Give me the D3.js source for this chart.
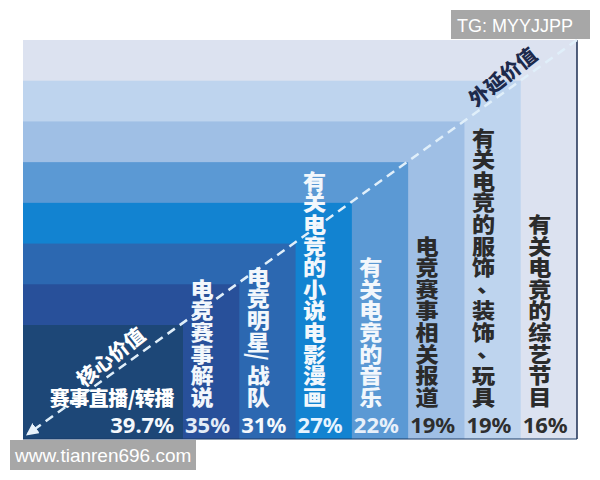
<!DOCTYPE html>
<html><head><meta charset="utf-8">
<script src="https://cdn.jsdelivr.net/npm/d3@7"></script>
<style>html,body{margin:0;padding:0;background:#fff;}svg{display:block;}</style>
</head><body>
<script>
const categories = ["赛事直播/转播","电竞赛事解说","电竞明星/战队","有关电竞的小说电影漫画","有关电竞的音乐","电竞赛事相关报道","有关电竞的服饰、装饰、玩具","有关电竞的综艺节目"];
const values = [39.7, 35, 31, 27, 22, 19, 19, 16];
const valueLabels = ["39.7%","35%","31%","27%","22%","19%","19%","16%"];
const axisLabels = ["核心价值","外延价值"];
const bandColors = ["#1d4777","#28509a","#2c68b1","#1283d1","#5b99d4","#9fbfe5","#bed4ee","#dce2f0"];
const pctColors = ["#f4f8fc","#e3ecf7","#f4f8fc","#e6f3ff","#e8f0fa","#2e2e2e","#2e2e2e","#2e2e2e"];
const textColors = ["#ffffff","#f2f7fc","#f2f7fc","#f2f7fc","#f2f7fc","#2b2b2b","#2b2b2b","#2b2b2b"];

const W = 600, H = 480;
const left = 23, bottom = 439;
const n = categories.length;
const svg = d3.select("body").append("svg").attr("width", W).attr("height", H);

const xRight = d3.scaleLinear().domain([0, n - 1]).range([183, 577]);
const yTop = d3.scaleLinear().domain([0, n - 1]).range([325, 40]);
const colLeft = i => i === 0 ? left : xRight(i - 1);

const idx = d3.range(n);
// nested rectangles: largest first
svg.append("g").selectAll("rect").data(idx.slice().reverse()).join("rect")
  .attr("x", left).attr("y", i => yTop(i))
  .attr("width", i => xRight(i) - left).attr("height", i => bottom - yTop(i))
  .attr("fill", i => bandColors[i]);

// border right / bottom
svg.append("line").attr("x1", xRight(n-1)).attr("x2", xRight(n-1)).attr("y1", yTop(n-1)).attr("y2", bottom)
  .attr("stroke", "#1b2d52").attr("stroke-width", 1.5);
svg.append("line").attr("x1", left).attr("x2", xRight(n-1)).attr("y1", bottom).attr("y2", bottom)
  .attr("stroke", "#1b3a66").attr("stroke-width", 1);

// diagonal dashed line with arrow
const defs = svg.append("defs");
defs.append("marker").attr("id", "arr").attr("viewBox", "0 0 10 10").attr("refX", 8).attr("refY", 5)
  .attr("markerWidth", 5).attr("markerHeight", 5).attr("orient", "auto-start-reverse")
  .append("path").attr("d", "M0,0 L10,5 L0,10 z").attr("fill", "#e8f3fc");
const x0 = 24, y0 = 437, x1 = xRight(n-1), y1 = yTop(n-1);
svg.append("line").attr("x1", x1).attr("y1", y1).attr("x2", x0 + 4).attr("y2", y0 - 3)
  .attr("stroke", "#e0effa").attr("stroke-width", 2.5).attr("stroke-dasharray", "9,6")
  .attr("marker-end", "url(#arr)");

const ang = Math.atan2(y0 - y1, x1 - x0) * 180 / Math.PI;
const cjk = "'Noto Sans CJK SC', sans-serif";
svg.append("text").attr("transform", `translate(110,356) rotate(${-ang - 3})`)
  .attr("text-anchor", "middle").attr("dominant-baseline", "central")
  .attr("font-family", cjk).attr("font-weight", 900).attr("font-size", 20)
  .attr("fill", "#ffffff").text(axisLabels[0]);
svg.append("text").attr("transform", `translate(502,76) rotate(${-ang - 3})`)
  .attr("text-anchor", "middle").attr("dominant-baseline", "central")
  .attr("font-family", cjk).attr("font-weight", 900).attr("font-size", 20)
  .attr("fill", "#1d2a4c").text(axisLabels[1]);

// first category horizontal
svg.append("text").attr("x", 174).attr("y", 406).attr("text-anchor", "end")
  .attr("font-family", cjk).attr("font-weight", 900).attr("font-size", 20)
  .attr("letter-spacing", -0.5)
  .attr("fill", textColors[0]).text(categories[0]);

// vertical labels, one character per text, stacked from the bottom
const step = 21.6, slashStep = 12, lastBottom = 406;
idx.slice(1).forEach(i => {
  const chars = Array.from(categories[i]);
  const cx = colLeft(i) + 19;
  const g = svg.append("g");
  let yb = lastBottom;
  for (let j = chars.length - 1; j >= 0; j--) {
    const c = chars[j];
    const s = c === "/" ? slashStep : step;
    const cy = yb - s / 2;
    yb -= s;
    const t = g.append("text")
      .attr("text-anchor", "middle").attr("dominant-baseline", "central")
      .attr("font-family", cjk).attr("font-weight", 900).attr("font-size", 21)
      .attr("fill", textColors[i]).text(c);
    if (c === "/") t.attr("transform", `translate(${cx},${cy}) rotate(90) scale(0.9,1.15)`);
    else if (c === "、") t.attr("transform", `translate(${cx + 5},${cy - 5}) scale(1.1,1)`);
    else t.attr("transform", `translate(${cx},${cy}) scale(1.1,1)`);
  }
});

// percentages
svg.append("g").selectAll("text").data(idx).join("text")
  .attr("x", i => i === 0 ? 174 : colLeft(i) + 2)
  .attr("y", 433)
  .attr("text-anchor", i => i === 0 ? "end" : "start")
  .attr("font-family", "'Noto Sans', sans-serif").attr("font-weight", 700).attr("font-size", 22)
  .attr("fill", i => pctColors[i]).text(i => valueLabels[i]);

// watermark boxes
svg.append("rect").attr("x", 451).attr("y", 10).attr("width", 139).attr("height", 29).attr("fill", "#a7a7a7");
svg.append("text").attr("x", 457).attr("y", 32).attr("font-family", "'Liberation Sans', Arial, sans-serif")
  .attr("font-size", 18).attr("fill", "#ffffff").text("TG: MYYJJPP");
svg.append("rect").attr("x", 10).attr("y", 440).attr("width", 186).attr("height", 30).attr("fill", "#a7a7a7");
svg.append("text").attr("x", 15).attr("y", 462).attr("font-family", "'Liberation Sans', Arial, sans-serif")
  .attr("font-size", 19).attr("fill", "#ffffff").text("www.tianren696.com");
</script>
</body></html>
